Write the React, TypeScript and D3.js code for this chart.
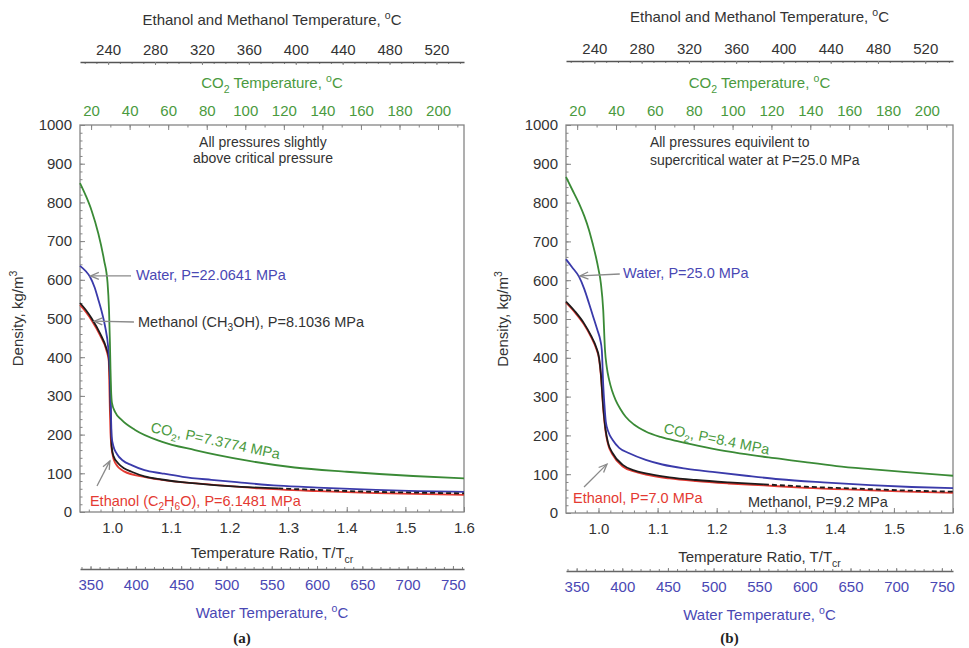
import React, { useEffect, useRef } from 'react';
import * as d3 from 'd3';

type Pt = [number, number];
type Part = [string, string?];

// density curves as [T/Tcr, kg/m3], panel (a)
const co2A: Pt[] = [[0.945, 850], [0.955, 817], [0.965, 778], [0.976, 721], [0.986, 651], [0.992, 592], [0.9945, 522], [0.996, 440], [0.997, 370], [0.998, 315], [0.9995, 282], [1.005, 258], [1.016, 238], [1.039, 212], [1.084, 182], [1.141, 160], [1.226, 134], [1.311, 115], [1.40, 104], [1.513, 93], [1.6, 87]];
const waterA: Pt[] = [[0.945, 636], [0.955, 622], [0.962, 608], [0.970, 580], [0.976, 550], [0.982, 518], [0.988, 478], [0.993, 427], [0.996, 360], [0.997, 300], [0.998, 240], [0.999, 195], [1.002, 170], [1.008, 150], [1.018, 133], [1.033, 121], [1.055, 108], [1.084, 100], [1.12, 91], [1.169, 83], [1.22, 76], [1.283, 68], [1.35, 63], [1.45, 57], [1.52, 54], [1.6, 52]];
const methanolA: Pt[] = [[0.945, 540], [0.955, 522], [0.965, 500], [0.979, 462], [0.99, 423], [0.994, 400], [0.996, 340], [0.997, 280], [0.998, 220], [0.999, 170], [1.002, 145], [1.01, 126], [1.02, 113], [1.033, 104], [1.055, 92], [1.084, 84], [1.12, 77], [1.169, 70], [1.22, 65], [1.283, 61], [1.35, 57], [1.45, 52], [1.52, 50], [1.6, 48]];
const ethanolA: Pt[] = [[0.945, 535], [0.955, 517], [0.965, 495], [0.979, 457], [0.99, 418], [0.994, 390], [0.995, 330], [0.996, 260], [0.997, 205], [0.998, 178], [1.0, 152], [1.005, 127], [1.02, 105], [1.056, 90], [1.10, 80], [1.169, 71], [1.25, 61], [1.35, 54], [1.45, 49], [1.6, 44]];

// panel (b)
const co2B: Pt[] = [[0.945, 866], [0.955, 835], [0.967, 798], [0.976, 765], [0.984, 729], [0.990, 695], [0.9955, 661], [1.0, 628], [1.004, 592], [1.008, 523], [1.011, 420], [1.014, 376], [1.018, 343], [1.023, 315], [1.029, 291], [1.037, 268], [1.046, 248], [1.06, 228], [1.08, 210], [1.105, 196], [1.137, 184], [1.18, 170], [1.2215, 158], [1.26, 149], [1.306, 140], [1.35, 131], [1.403, 121], [1.46, 113], [1.516, 106], [1.6, 96]];
const waterB: Pt[] = [[0.945, 654], [0.955, 634], [0.967, 609], [0.976, 577], [0.984, 540], [0.991, 506], [0.998, 472], [1.003, 446], [1.0056, 420], [1.008, 330], [1.01, 280], [1.0124, 235], [1.017, 208], [1.024, 188], [1.035, 168], [1.052, 154], [1.08, 137], [1.108, 125], [1.15, 114], [1.193, 106], [1.25, 96], [1.306, 87], [1.38, 79], [1.46, 72], [1.53, 67], [1.6, 64]];
const methanolB: Pt[] = [[0.945, 545], [0.96, 520], [0.975, 490], [0.988, 455], [0.996, 428], [1.001, 400], [1.004, 360], [1.008, 274], [1.012, 215], [1.016, 182], [1.024, 154], [1.041, 124], [1.06, 110], [1.08, 102], [1.12, 92], [1.165, 85], [1.22, 79], [1.28, 74], [1.35, 68], [1.45, 62], [1.52, 58], [1.6, 55]];
const ethanolB: Pt[] = [[0.945, 542], [0.96, 517], [0.975, 487], [0.988, 452], [0.996, 424], [1.001, 396], [1.004, 355], [1.008, 268], [1.012, 210], [1.016, 178], [1.024, 150], [1.041, 120], [1.06, 107], [1.08, 99], [1.12, 89], [1.165, 82], [1.22, 76], [1.28, 71], [1.35, 65], [1.45, 59], [1.52, 55], [1.6, 52]];

// axes
const ratioDomain = [0.945, 1.6];
const ratioTicks = [1.0, 1.1, 1.2, 1.3, 1.4, 1.5, 1.6];
const densityTicks = [0, 100, 200, 300, 400, 500, 600, 700, 800, 900, 1000];
const co2Ticks = [20, 40, 60, 80, 100, 120, 140, 160, 180, 200];
const alcTicks = [240, 280, 320, 360, 400, 440, 480, 520];
const waterTicks = [350, 400, 450, 500, 550, 600, 650, 700, 750];
const co2Tcr = 304.13;
const waterTcr = 647.1;
const alcDomain = [216, 543.5];
const dashFrom = 1.24;

// texts
const noteA = ['All pressures slightly', 'above critical pressure'];
const noteB = ['All pressures equivilent to', 'supercritical water at P=25.0 MPa'];
const labelsA: Part[][] = [
  [['Water, P=22.0641 MPa']],
  [['Methanol (CH'], ['3', 'sub'], ['OH), P=8.1036 MPa']],
  [['CO'], ['2', 'sub'], [', P=7.3774 MPa']],
  [['Ethanol (C'], ['2', 'sub'], ['H'], ['6', 'sub'], ['O), P=6.1481 MPa']],
];
const labelsB: Part[][] = [
  [['Water, P=25.0 MPa']],
  [['CO'], ['2', 'sub'], [', P=8.4 MPa']],
  [['Ethanol, P=7.0 MPa']],
  [['Methanol, P=9.2 MPa']],
];

const FONT = '"Liberation Sans", Arial, Helvetica, sans-serif';
const GREEN = '#3a8a36';
const GREEN_TXT = '#4a9a3e';
const BLUE = '#3a3aaa';
const BLUE_TXT = '#4a48b4';
const RED = '#e43a32';
const BLACK = '#1e1a1a';
const GRAY = '#858585';
const TXT = '#333';

const panels = [
  {
    left: 80, right: 464, top: 125, bottom: 512,
    rows: { alcTitle: 25, alcLine: 62, co2Title: 88, ratioTitle: 558, waterLine: 569, waterTitle: 618, tag: 643 },
    yTitleX: 23,
    co2: co2A, water: waterA, methanol: methanolA, ethanol: ethanolA,
    note: { lines: noteA, at: [1.257, 943] as Pt, gap: 16, anchor: 'middle' },
    labels: [
      { parts: labelsA[0], at: [1.0405, 600] as Pt, color: BLUE_TXT, angle: 0 },
      { parts: labelsA[1], at: [1.044, 478] as Pt, color: TXT, angle: 0 },
      { parts: labelsA[2], at: [1.0644, 207] as Pt, color: GREEN_TXT, angle: 12 },
      { parts: labelsA[3], at: [0.962, 15.5] as Pt, color: RED, angle: 0 },
    ],
    arrows: [
      { from: [1.032, 610] as Pt, to: [0.963, 610] as Pt },
      { from: [1.037, 491] as Pt, to: [0.969, 493] as Pt },
      { from: [0.974, 67] as Pt, to: [0.996, 132] as Pt },
    ],
    tag: '(a)',
  },
  {
    left: 566, right: 953, top: 125, bottom: 513,
    rows: { alcTitle: 22, alcLine: 61, co2Title: 88, ratioTitle: 562, waterLine: 571, waterTitle: 620, tag: 643 },
    yTitleX: 508,
    co2: co2B, water: waterB, methanol: methanolB, ethanol: ethanolB,
    note: { lines: noteB, at: [1.087, 943] as Pt, gap: 18, anchor: 'start' },
    labels: [
      { parts: labelsB[0], at: [1.0415, 606] as Pt, color: BLUE_TXT, angle: 0 },
      { parts: labelsB[1], at: [1.109, 206] as Pt, color: GREEN_TXT, angle: 11.5 },
      { parts: labelsB[2], at: [0.957, 26] as Pt, color: RED, angle: 0 },
      { parts: labelsB[3], at: [1.253, 15.5] as Pt, color: TXT, angle: 0 },
    ],
    arrows: [
      { from: [1.036, 616] as Pt, to: [0.9687, 611] as Pt },
      { from: [0.9755, 67] as Pt, to: [1.0144, 126] as Pt },
    ],
    tag: '(b)',
  },
];

function rich(text: any, parts: Part[], fs: number) {
  let shift = 0;
  parts.forEach(([s, kind]) => {
    const t = text.append('tspan').text(s);
    const target = kind === 'sup' ? -fs * 0.4 : kind === 'sub' ? fs * 0.3 : 0;
    if (target !== shift) t.attr('dy', target - shift);
    shift = target;
    if (kind) t.attr('font-size', fs * 0.7);
  });
}

function styleAxis(g: any, color: string, fs = 15) {
  g.attr('font-family', FONT).attr('font-size', fs);
  g.selectAll('.tick line').attr('stroke', GRAY);
  g.selectAll('.tick text').attr('fill', color);
}

function drawPanel(root: any, p: any) {
  const x = d3.scaleLinear().domain(ratioDomain).range([p.left, p.right]);
  const y = d3.scaleLinear().domain([0, 1000]).range([p.bottom, p.top]);
  const xCo2 = d3.scaleLinear().domain(ratioDomain.map(r => r * co2Tcr - 273.15)).range([p.left, p.right]);
  const xWater = d3.scaleLinear().domain(ratioDomain.map(r => r * waterTcr - 273.15)).range([p.left, p.right]);
  const xAlc = d3.scaleLinear().domain(alcDomain).range([p.left, p.right]);
  const cx = (p.left + p.right) / 2;
  const g = root.append('g');

  // minor ticks inside the frame
  const minor = (axis: any, vals: number[], tr: string) => {
    const m = g.append('g').attr('transform', tr).call(axis.tickValues(vals).tickSize(-2.5).tickSizeOuter(0).tickFormat(() => ''));
    m.select('.domain').remove();
    m.selectAll('line').attr('stroke', GRAY);
  };
  minor(d3.axisLeft(y), d3.range(0, 1001, 20), `translate(${p.left},0)`);
  minor(d3.axisBottom(x), d3.range(0.96, 1.6, 0.02), `translate(0,${p.bottom})`);
  minor(d3.axisTop(xCo2), d3.range(20, 211, 10), `translate(0,${p.top})`);

  // density axis
  const ya = g.append('g').attr('transform', `translate(${p.left},0)`)
    .call(d3.axisLeft(y).tickValues(densityTicks).tickSize(-5).tickSizeOuter(0).tickPadding(8).tickFormat(d3.format('d')));
  ya.select('.domain').remove();
  styleAxis(ya, TXT);

  // ratio axis
  const xa = g.append('g').attr('transform', `translate(0,${p.bottom})`)
    .call(d3.axisBottom(x).tickValues(ratioTicks).tickSize(-5).tickSizeOuter(0).tickPadding(10).tickFormat(d3.format('.1f')));
  xa.select('.domain').remove();
  styleAxis(xa, TXT);

  // CO2 temperature on frame top
  const ca = g.append('g').attr('transform', `translate(0,${p.top})`)
    .call(d3.axisTop(xCo2).tickValues(co2Ticks).tickSize(-5).tickSizeOuter(0).tickPadding(9));
  ca.select('.domain').remove();
  styleAxis(ca, GREEN_TXT);

  // frame
  g.append('rect').attr('x', p.left).attr('y', p.top).attr('width', p.right - p.left).attr('height', p.bottom - p.top)
    .attr('fill', 'none').attr('stroke', GRAY).attr('stroke-width', 1.3);

  // alcohol temperature axis
  const am = g.append('g').attr('transform', `translate(0,${p.rows.alcLine})`)
    .call(d3.axisTop(xAlc).tickValues(d3.range(220, 541, 10)).tickSize(-2).tickSizeOuter(0).tickFormat(() => ''));
  am.select('.domain').remove();
  am.selectAll('line').attr('stroke', GRAY);
  const aa = g.append('g').attr('transform', `translate(0,${p.rows.alcLine})`)
    .call(d3.axisTop(xAlc).tickValues(alcTicks).tickSize(-3).tickSizeOuter(0).tickPadding(7));
  aa.select('.domain').attr('stroke', '#555').attr('stroke-width', 1.3);
  styleAxis(aa, TXT);

  // water temperature axis
  const wm = g.append('g').attr('transform', `translate(0,${p.rows.waterLine})`)
    .call(d3.axisBottom(xWater).tickValues(d3.range(340, 761, 10)).tickSize(-2).tickSizeOuter(0).tickFormat(() => ''));
  wm.select('.domain').remove();
  wm.selectAll('line').attr('stroke', GRAY);
  const wa = g.append('g').attr('transform', `translate(0,${p.rows.waterLine})`)
    .call(d3.axisBottom(xWater).tickValues(waterTicks).tickSize(-3).tickSizeOuter(0).tickPadding(10));
  wa.select('.domain').attr('stroke', '#666').attr('stroke-width', 1.3);
  styleAxis(wa, BLUE_TXT);

  // axis titles
  const title = (tx: number, ty: number, parts: Part[], color: string, rot = 0) => {
    const t = g.append('text').attr('x', tx).attr('y', ty).attr('text-anchor', 'middle')
      .attr('font-family', FONT).attr('font-size', 15).attr('fill', color);
    if (rot) t.attr('transform', `rotate(${rot},${tx},${ty})`);
    rich(t, parts, 15);
  };
  title(cx, p.rows.alcTitle, [['Ethanol and Methanol Temperature, '], ['o', 'sup'], ['C']], TXT);
  title(cx, p.rows.co2Title, [['CO'], ['2', 'sub'], [' Temperature, '], ['o', 'sup'], ['C']], GREEN_TXT);
  title(cx, p.rows.ratioTitle, [['Temperature Ratio, T/T'], ['cr', 'sub']], TXT);
  title(cx, p.rows.waterTitle, [['Water Temperature, '], ['o', 'sup'], ['C']], BLUE_TXT);
  title(p.yTitleX, (p.top + p.bottom) / 2, [['Density, kg/m'], ['3', 'sup']], TXT, -90);

  g.append('text').attr('x', cx - 30).attr('y', p.rows.tag).attr('text-anchor', 'middle')
    .attr('font-family', '"Liberation Serif", "Times New Roman", serif').attr('font-weight', 'bold')
    .attr('font-size', 15).attr('fill', '#222').text(p.tag);

  // curves
  const line = d3.line<Pt>().x(d => x(d[0])).y(d => y(d[1])).curve(d3.curveMonotoneX);
  const curve = (data: Pt[], color: string, dash?: string) => {
    const path = g.append('path').datum(data).attr('d', line).attr('fill', 'none')
      .attr('stroke', color).attr('stroke-width', 1.8);
    if (dash) path.attr('stroke-dasharray', dash);
  };
  curve(p.ethanol, RED);
  curve(p.methanol.filter((d: Pt) => d[0] <= dashFrom + 0.05), BLACK);
  curve(p.water, BLUE);
  curve(p.methanol.filter((d: Pt) => d[0] >= dashFrom), BLACK, '5,3');
  curve(p.co2, GREEN);

  // arrows
  p.arrows.forEach((a: any) => {
    const [x0, y0, x1, y1] = [x(a.from[0]), y(a.from[1]), x(a.to[0]), y(a.to[1])];
    const ang = Math.atan2(y0 - y1, x0 - x1);
    const head = [-0.4, 0.4].map(da => [x1 + 9 * Math.cos(ang + da), y1 + 9 * Math.sin(ang + da)]);
    const ag = g.append('g').attr('stroke', '#8a8a8a').attr('stroke-width', 1.3).attr('fill', 'none');
    ag.append('line').attr('x1', x0).attr('y1', y0).attr('x2', x1).attr('y2', y1);
    ag.append('path').attr('d', `M${head[0][0]},${head[0][1]}L${x1},${y1}L${head[1][0]},${head[1][1]}`);
  });

  // series labels
  p.labels.forEach((l: any) => {
    const lx = x(l.at[0]);
    const ly = y(l.at[1]);
    const t = g.append('text').attr('x', lx).attr('y', ly).attr('font-family', FONT)
      .attr('font-size', 14.5).attr('fill', l.color);
    if (l.angle) t.attr('transform', `rotate(${l.angle},${lx},${ly})`);
    rich(t, l.parts, 14.5);
  });

  // note
  p.note.lines.forEach((s: string, i: number) => {
    g.append('text').attr('x', x(p.note.at[0])).attr('y', y(p.note.at[1]) + i * p.note.gap)
      .attr('text-anchor', p.note.anchor).attr('font-family', FONT).attr('font-size', 14)
      .attr('fill', TXT).text(s);
  });
}

export default function App() {
  const svgRef = useRef<SVGSVGElement>(null);

  useEffect(() => {
    if (!svgRef.current) return;
    const svg = d3.select(svgRef.current);
    svg.selectAll('*').remove();
    svg.append('rect').attr('width', 969).attr('height', 648).attr('fill', '#fff');
    panels.forEach(p => drawPanel(svg, p));
  }, []);

  return (
    <svg ref={svgRef} width={969} height={648}
      style={{ position: 'absolute', left: 0, top: 0, display: 'block' }} />
  );
}
